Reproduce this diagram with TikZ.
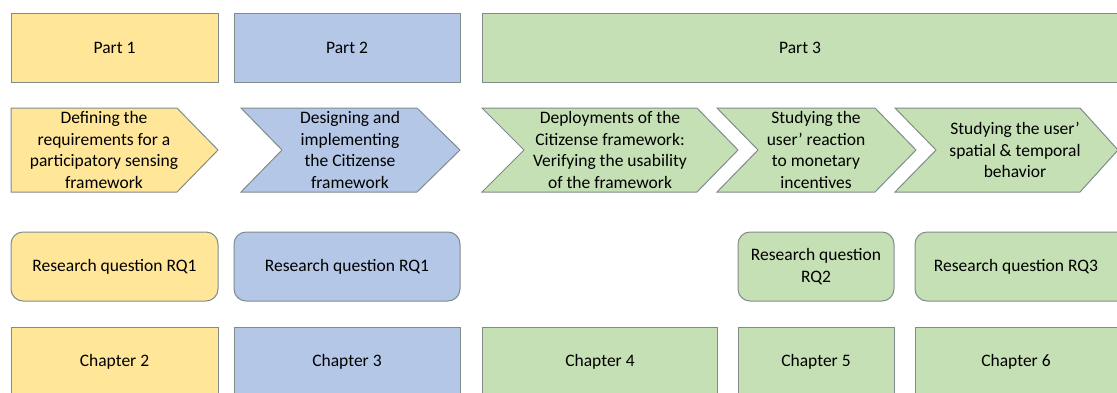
\documentclass[tikz,border=0pt]{standalone}
\usepackage{fontspec}
\setmainfont{Carlito}
\definecolor{ylw}{HTML}{FFE699}
\definecolor{blu}{HTML}{B4C7E7}
\definecolor{grn}{HTML}{C5E0B4}
\definecolor{edge}{RGB}{128,140,140}
\tikzset{
  box/.style={draw=edge, line width=1pt},
  rq/.style={box, rounded corners=12pt},
  lbl/.style={font=\fontsize{17.5}{21.5}\selectfont, align=center, text=black}
}
\begin{document}
\begin{tikzpicture}[x=1pt,y=-1pt]
            \clip (0,0) rectangle (1117,392);
            % parts
            \draw [box,fill=ylw] (11,13) rectangle (218,82);
            \draw [box,fill=blu] (234,13) rectangle (460,82);
            \draw [box,fill=grn] (482,13) rectangle (1130,82);
            \node [lbl] (part1) at (114.5,47.5) {Part 1};
            \node [lbl] (part2) at (347,47.5) {Part 2};
            \node [lbl] (part3) at (800,47.5) {Part 3};
            % chevrons
            \draw [box,fill=ylw] (11,108) -- (177,108) -- (218,150) -- (177,192) -- (11,192) -- cycle;
            \draw [box,fill=blu] (241,108) -- (417,108) -- (460,150) -- (417,192) -- (241,192) -- (282,150) -- cycle;
            \draw [box,fill=grn] (482,108) -- (697,108) -- (738,150) -- (697,192) -- (482,192) -- (524,150) -- cycle;
            \draw [box,fill=grn] (717,108) -- (875,108) -- (916,150) -- (875,192) -- (717,192) -- (758,150) -- cycle;
            \draw [box,fill=grn] (895,108) -- (1080,108) -- (1118,150) -- (1080,192) -- (895,192) -- (936,150) -- cycle;
            \node [lbl] (step1) at (104,150) {Defining the\\requirements for a\\participatory sensing\\framework};
            \node [lbl] (step2) at (350,150) {Designing and\\implementing\\the Citizense\\framework};
            \node [lbl] (step3) at (610,150) {Deployments of the\\Citizense framework:\\Verifying the usability\\of the framework};
            \node [lbl] (step4) at (816,150) {Studying the\\user’ reaction\\to monetary\\incentives};
            \node [lbl] (step5) at (1015,150) {Studying the user’\\spatial \& temporal\\behavior};
            % research questions
            \draw [rq,fill=ylw] (11,232) rectangle (218,301);
            \draw [rq,fill=blu] (234,232) rectangle (460,301);
            \draw [rq,fill=grn] (738,232) rectangle (894,301);
            \draw [rq,fill=grn] (915,232) rectangle (1140,301);
            \node [lbl] (rq1a) at (114.5,266.5) {Research question RQ1};
            \node [lbl] (rq1b) at (347,266.5) {Research question RQ1};
            \node [lbl] (rq2) at (816,266.5) {Research question\\RQ2};
            \node [lbl] (rq3) at (1016,266.5) {Research question RQ3};
            % chapters
            \draw [box,fill=ylw] (11,327) rectangle (218,400);
            \draw [box,fill=blu] (234,327) rectangle (460,400);
            \draw [box,fill=grn] (482,327) rectangle (717,400);
            \draw [box,fill=grn] (738,327) rectangle (894,400);
            \draw [box,fill=grn] (915,327) rectangle (1130,400);
            \node [lbl] (ch2) at (114.5,362) {Chapter 2};
            \node [lbl] (ch3) at (347,362) {Chapter 3};
            \node [lbl] (ch4) at (600,362) {Chapter 4};
            \node [lbl] (ch5) at (816,362) {Chapter 5};
            \node [lbl] (ch6) at (1016,362) {Chapter 6};
        \end{tikzpicture}
\end{document}
